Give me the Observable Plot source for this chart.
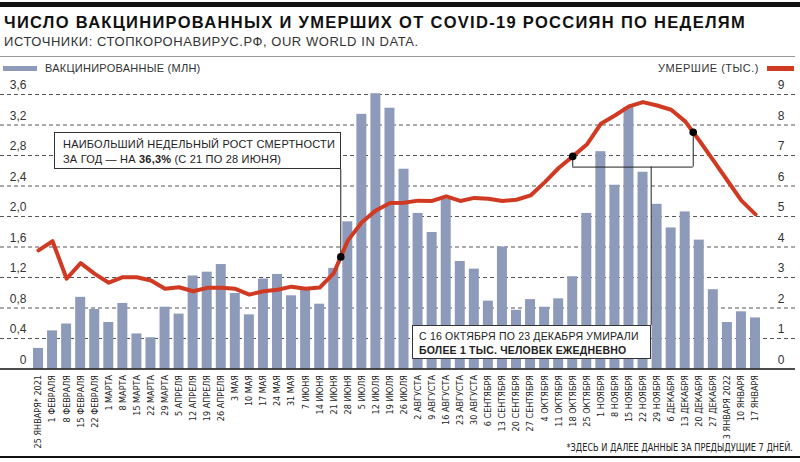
<!DOCTYPE html>
<html>
<head>
<meta charset="utf-8">
<script src="https://cdn.jsdelivr.net/npm/d3@7"></script>
<script src="https://cdn.jsdelivr.net/npm/@observablehq/plot@0.6"></script>
<style>
  html, body { margin: 0; padding: 0; background: #fff; }
  #wrap { position: relative; width: 800px; height: 462px; overflow: hidden; font-family: "Liberation Sans", Arial, sans-serif; color: #222; }
  .abs { position: absolute; }
  #topbar { left: 0; top: 2px; width: 800px; height: 5px; background: #111; }
  #title { left: 4px; top: 12px; font-weight: bold; font-size: 16.5px; letter-spacing: 1.3px; line-height: 20px; color: #111; white-space: nowrap; }
  #subtitle { left: 4px; top: 34px; font-size: 13px; letter-spacing: 0.55px; line-height: 16px; color: #333; white-space: nowrap; }
  #rule { left: 0; top: 56px; width: 795px; height: 1px; background: #9a9a9a; }
  #lgL { left: 3px; top: 66px; width: 34px; height: 5px; background: #8e9aba; }
  #lgLt { left: 45px; top: 62px; font-size: 11px; letter-spacing: 0.25px; line-height: 13px; color: #333; white-space: nowrap; }
  #lgR { left: 767px; top: 66px; width: 27px; height: 5px; background: #d13a22; }
  #lgRt { right: 41px; top: 62px; font-size: 11px; letter-spacing: 0.5px; line-height: 13px; color: #333; white-space: nowrap; }
  #chart { left: 0; top: 76px; }
  .box { background: #fff; border: 1px solid #333; box-sizing: border-box; font-size: 11px; line-height: 14.5px; color: #222; white-space: nowrap; letter-spacing: 0.2px; }
  #box1 { left: 54px; top: 132px; width: 287px; height: 37px; padding: 4px 0 0 8px; }
  #box2 { left: 412px; top: 325px; width: 239px; height: 34px; padding: 3px 0 0 6px; font-size: 10.5px; line-height: 14px; }
  #foot { right: 7px; top: 441px; font-family: "Liberation Sans Narrow", "DejaVu Sans Condensed", "Liberation Sans", sans-serif; font-size: 11px; line-height: 13px; color: #222; white-space: nowrap; transform: scaleX(0.83); transform-origin: right center; }
  #bottombar { left: 0; top: 456px; width: 800px; height: 2px; background: #111; }
</style>
</head>
<body>
<div id="wrap">
  <div class="abs" id="topbar"></div>
  <div class="abs" id="title">ЧИСЛО ВАКЦИНИРОВАННЫХ И УМЕРШИХ ОТ COVID-19 РОССИЯН ПО НЕДЕЛЯМ</div>
  <div class="abs" id="subtitle">ИСТОЧНИКИ: СТОПКОРОНАВИРУС.РФ, OUR WORLD IN DATA.</div>
  <div class="abs" id="rule"></div>
  <div class="abs" id="lgL"></div>
  <div class="abs" id="lgLt">ВАКЦИНИРОВАННЫЕ (МЛН)</div>
  <div class="abs" id="lgRt">УМЕРШИЕ (ТЫС.)</div>
  <div class="abs" id="lgR"></div>
  <div class="abs" id="chart"></div>
  <div class="abs box" id="box1">НАИБОЛЬШИЙ НЕДЕЛЬНЫЙ РОСТ СМЕРТНОСТИ<br>ЗА ГОД — НА <b>36,3%</b> (С 21 ПО 28 ИЮНЯ)</div>
  <div class="abs box" id="box2">С 16 ОКТЯБРЯ ПО 23 ДЕКАБРЯ УМИРАЛИ<br><b>БОЛЕЕ 1 ТЫС. ЧЕЛОВЕК ЕЖЕДНЕВНО</b></div>
  <div class="abs" id="foot">*ЗДЕСЬ И ДАЛЕЕ ДАННЫЕ ЗА ПРЕДЫДУЩИЕ 7 ДНЕЙ.</div>
  <div class="abs" id="bottombar"></div>
</div>
<script>
// ---- data ----
const weeks = ["25 ЯНВАРЯ* 2021","1 ФЕВРАЛЯ","8 ФЕВРАЛЯ","15 ФЕВРАЛЯ","22 ФЕВРАЛЯ","1 МАРТА","8 МАРТА","15 МАРТА","22 МАРТА","29 МАРТА","5 АПРЕЛЯ","12 АПРЕЛЯ","19 АПРЕЛЯ","26 АПРЕЛЯ","3 МАЯ","10 МАЯ","17 МАЯ","24 МАЯ","31 МАЯ","7 ИЮНЯ","14 ИЮНЯ","21 ИЮНЯ","28 ИЮНЯ","5 ИЮЛЯ","12 ИЮЛЯ","19 ИЮЛЯ","26 ИЮЛЯ","2 АВГУСТА","9 АВГУСТА","16 АВГУСТА","23 АВГУСТА","30 АВГУСТА","6 СЕНТЯБРЯ","13 СЕНТЯБРЯ","20 СЕНТЯБРЯ","27 СЕНТЯБРЯ","4 ОКТЯБРЯ","11 ОКТЯБРЯ","18 ОКТЯБРЯ","25 ОКТЯБРЯ","1 НОЯБРЯ","8 НОЯБРЯ","15 НОЯБРЯ","22 НОЯБРЯ","29 НОЯБРЯ","6 ДЕКАБРЯ","13 ДЕКАБРЯ","20 ДЕКАБРЯ","27 ДЕКАБРЯ","3 ЯНВАРЯ 2022","10 ЯНВАРЯ","17 ЯНВАРЯ"];

// vaccinated per week, millions
const vaccinated = [0.27,0.50,0.59,0.94,0.78,0.61,0.86,0.46,0.41,0.81,
  0.72,1.22,1.27,1.37,0.99,0.71,1.18,1.24,0.96,1.03,
  0.85,1.32,1.93,3.34,3.61,3.42,2.62,2.04,1.79,2.23,
  1.41,1.31,0.89,1.60,0.77,0.91,0.81,0.92,1.21,2.04,
  2.85,2.41,3.43,2.58,2.16,1.85,2.06,1.69,1.04,0.61,
  0.75,0.67];

// deaths per week, thousands
const deaths = [3.89,4.19,2.96,3.47,3.12,2.83,3.01,3.01,2.90,2.63,
  2.68,2.55,2.66,2.66,2.63,2.44,2.55,2.60,2.70,2.63,
  2.67,3.14,4.21,4.81,5.20,5.44,5.45,5.52,5.51,5.66,
  5.51,5.61,5.58,5.51,5.55,5.69,6.12,6.59,6.97,7.36,
  8.04,8.31,8.61,8.75,8.64,8.50,8.12,7.49,6.84,6.18,
  5.52,5.07];

const leftTicks = [0,0.4,0.8,1.2,1.6,2.0,2.4,2.8,3.2,3.6];   // millions
const rightTicks = [0,1,2,3,4,5,6,7,8,9];                   // thousands

// annotation anchors (week index, levels in thousands)
const markWeeks = [21.5, 38, 46.57];
const box1Level = 6.54;
const bracketLevel = 6.62;
const box2Link = {week: 43.58, top: 1.42};

// ---- derived ----
const ratio = 2.5; // thousands per million on the shared axis
const data = weeks.map((w, i) => ({i, label: w, vac: vaccinated[i], dead: deaths[i]}));
const interp = w => { const a = Math.floor(w), t = w - a; return deaths[a] * (1 - t) + (deaths[Math.min(a + 1, deaths.length - 1)]) * t; };
const marks = markWeeks.map(w => ({week: w, dead: interp(w)}));
const fmtL = d => d === 0 ? "0" : d.toFixed(1).replace(".", ",");

const RED = "#d13a22", BLUE = "#8e9aba";

const chart = Plot.plot({
  width: 800,
  height: 386,
  marginLeft: 0,
  marginRight: 5,
  marginTop: 18,
  marginBottom: 93.5,
  style: {fontFamily: "'Liberation Sans', Arial, sans-serif", fontSize: "11px", color: "#222", background: "transparent"},
  x: {type: "linear", domain: [-2.703, 53.845], axis: null},
  y: {domain: [0, 3.6], axis: null},
  marks: [
    Plot.ruleY(leftTicks.filter(d => d > 0), {stroke: "#555", strokeWidth: 1, strokeDasharray: "4,3"}),
    Plot.rectY(data, {x1: d => d.i - 0.355, x2: d => d.i + 0.355, y: "vac", fill: BLUE}),
    Plot.ruleY([0], {stroke: "#111", strokeWidth: 1.6}),
    Plot.text(leftTicks, {y: d => d, text: fmtL, frameAnchor: "left", dx: 26, dy: -9, textAnchor: "end", fontSize: 12, fill: "#333"}),
    Plot.text(rightTicks, {y: d => d / ratio, text: d => String(d), frameAnchor: "right", dx: -11, dy: -9, textAnchor: "end", fontSize: 12, fill: "#333"}),
    Plot.axisX({ticks: d3.range(weeks.length), tickFormat: i => weeks[i], tickRotate: -90, tickSize: 0, tickPadding: 6,
      fontSize: 9, fontFamily: "'Liberation Sans Narrow', 'DejaVu Sans Condensed', 'Liberation Sans', sans-serif", fill: "#222"}),
    Plot.line(data, {x: "i", y: d => d.dead / ratio, stroke: RED, strokeWidth: 4, strokeLinejoin: "round", strokeLinecap: "round"}),
    // connectors
    Plot.ruleX([marks[0]], {x: "week", y1: d => d.dead / ratio, y2: box1Level / ratio, stroke: "#222", strokeWidth: 1}),
    Plot.ruleX(marks.slice(1), {x: "week", y1: d => d.dead / ratio, y2: bracketLevel / ratio, stroke: "#222", strokeWidth: 1}),
    Plot.ruleY([bracketLevel], {y: d => d / ratio, x1: markWeeks[1], x2: markWeeks[2], stroke: "#222", strokeWidth: 1}),
    Plot.ruleX([box2Link], {x: "week", y1: bracketLevel / ratio, y2: d => d.top / ratio, stroke: "#222", strokeWidth: 1}),
    Plot.dot(marks, {x: "week", y: d => d.dead / ratio, r: 3.8, fill: "#000"})
  ]
});
document.getElementById("chart").appendChild(chart);
</script>
</body>
</html>
